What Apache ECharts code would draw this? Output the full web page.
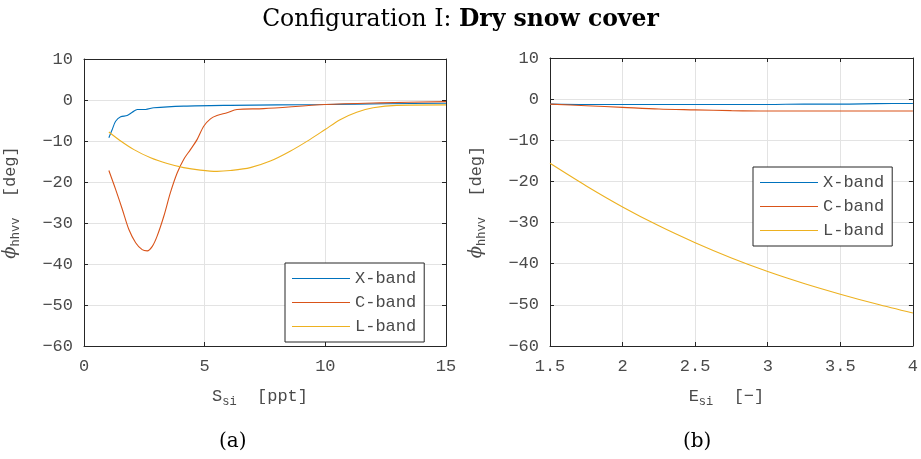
<!DOCTYPE html>
<html>
<head>
<meta charset="utf-8">
<script src="https://cdn.jsdelivr.net/npm/echarts@6/dist/echarts.min.js"></script>
<style>
  html, body { margin: 0; padding: 0; background: #fff; }
  #chart { width: 921px; height: 459px; }
</style>
</head>
<body>
<div id="chart"></div>
<script>
// ---- Data ----
const seriesNames = ['X-band', 'C-band', 'L-band'];

// Panel (a): phase difference vs. salinity S_si [ppt]
const xBandSalX = [1.03, 1.17, 1.31, 1.52, 1.79, 2.0, 2.21, 2.55, 2.89, 4.13, 6.06, 8.0, 10.0, 12.5, 15.0];
const xBandSalY = [-9.2, -7.2, -5.2, -4.1, -3.8, -3.0, -2.3, -2.3, -1.9, -1.5, -1.3, -1.2, -1.1, -0.9, -0.8];

const cBandSalX = [1.03, 1.31, 1.59, 1.86, 2.14, 2.41, 2.62, 2.83, 3.03, 3.31, 3.58, 3.86, 4.13, 4.41, 4.69, 4.96, 5.24, 5.51, 5.93, 6.34, 7.44, 10.0, 12.26, 15.0];
const cBandSalY = [-17.2, -21.8, -26.7, -31.6, -34.8, -36.5, -36.8, -35.7, -33.2, -28.3, -22.6, -17.8, -14.5, -12.1, -9.6, -6.4, -4.6, -3.8, -3.1, -2.3, -2.1, -1.1, -0.7, -0.4];

const lBandSalX = [1.03, 1.52, 2.07, 2.76, 3.45, 4.13, 4.82, 5.51, 6.06, 6.89, 7.72, 8.54, 9.37, 9.99, 10.61, 11.3, 11.98, 12.95, 15.0];
const lBandSalY = [-7.8, -10.0, -12.1, -14.1, -15.5, -16.5, -17.1, -17.4, -17.2, -16.5, -14.9, -12.5, -9.6, -7.2, -4.8, -3.0, -1.9, -1.3, -1.2];

// Panel (b): phase difference vs. permittivity E_si [-]
const permX = [1.5, 1.75, 2.0, 2.25, 2.5, 2.75, 3.0, 3.25, 3.5, 3.75, 4.0];
const xBandPermY = [-1.2, -1.3, -1.3, -1.3, -1.3, -1.3, -1.3, -1.2, -1.2, -1.1, -1.05];
const cBandPermY = [-1.2, -1.6, -2.0, -2.4, -2.6, -2.8, -2.9, -2.9, -2.9, -2.9, -2.9];
const lBandPermY = [-15.6, -21.1, -26.2, -30.8, -34.9, -38.6, -41.9, -44.8, -47.4, -49.8, -52.0];

// Axis ranges / ticks
const salTicks = [0, 5, 10, 15];
const permTicks = [1.5, 2, 2.5, 3, 3.5, 4];
const phaseTicks = [-60, -50, -40, -30, -20, -10, 0, 10];

// ---- Styling ----
const colors = ['#0072BD', '#D95319', '#EDB120'];
const MONO = '"Liberation Mono", "DejaVu Sans Mono", monospace';
const SERIF = '"DejaVu Serif", "Liberation Serif", serif';
const axisColor = '#262626';
const labelColor = '#4a4a4a';
const gridColor = '#e3e3e3';

function zip(xs, ys) { return xs.map((x, i) => [x, ys[i]]); }

const nameRich = {
  v: { fontFamily: MONO, fontSize: 17, color: labelColor, verticalAlign: 'middle', lineHeight: 24 },
  phi: { fontFamily: SERIF, fontStyle: 'italic', fontSize: 18, color: labelColor, verticalAlign: 'middle', lineHeight: 24 },
  sub: { fontFamily: MONO, fontSize: 12, color: labelColor, verticalAlign: 'bottom', lineHeight: 12 },
  u: { fontFamily: MONO, fontSize: 17, color: labelColor, verticalAlign: 'middle', lineHeight: 24 }
};

function mainX(grid, ticks, name) {
  return {
    type: 'value', gridIndex: grid, position: 'bottom',
    min: ticks[0], max: ticks[ticks.length - 1], interval: ticks[1] - ticks[0],
    axisLine: { show: true, onZero: false, lineStyle: { color: axisColor, width: 1 } },
    axisTick: { show: true, inside: true, length: 4, lineStyle: { color: axisColor } },
    axisLabel: { color: labelColor, fontFamily: MONO, fontSize: 17, margin: 12,
      formatter: v => String(Math.round(v * 10) / 10) },
    splitLine: { show: true, lineStyle: { color: gridColor, width: 1 } },
    name: name, nameLocation: 'middle', nameGap: 38,
    nameTextStyle: { rich: nameRich, padding: [0, 10, 0, 0] }
  };
}
function topX(grid, ticks) {
  return {
    type: 'value', gridIndex: grid, position: 'top',
    min: ticks[0], max: ticks[ticks.length - 1], interval: ticks[1] - ticks[0],
    axisLine: { show: true, onZero: false, lineStyle: { color: axisColor, width: 1 } },
    axisTick: { show: true, inside: true, length: 4, lineStyle: { color: axisColor } },
    axisLabel: { show: false }, splitLine: { show: false }
  };
}
function mainY(grid, nameGap) {
  return {
    type: 'value', gridIndex: grid, position: 'left',
    min: phaseTicks[0], max: phaseTicks[phaseTicks.length - 1], interval: 10,
    axisLine: { show: true, onZero: false, lineStyle: { color: axisColor, width: 1 } },
    axisTick: { show: true, inside: true, length: 4, lineStyle: { color: axisColor } },
    axisLabel: { color: labelColor, fontFamily: MONO, fontSize: 17, margin: 11,
      formatter: v => String(v).replace('-', '\u2212') },
    splitLine: { show: true, lineStyle: { color: gridColor, width: 1 } },
    name: '{phi|\u03D5}{sub|hhvv}{u|  [deg]}', nameLocation: 'middle', nameGap: nameGap, nameRotate: 90,
    nameTextStyle: { rich: nameRich }
  };
}
function rightY(grid) {
  return {
    type: 'value', gridIndex: grid, position: 'right',
    min: phaseTicks[0], max: phaseTicks[phaseTicks.length - 1], interval: 10,
    axisLine: { show: true, onZero: false, lineStyle: { color: axisColor, width: 1 } },
    axisTick: { show: true, inside: true, length: 4, lineStyle: { color: axisColor } },
    axisLabel: { show: false }, splitLine: { show: false }
  };
}

function lineSeries(name, idx, xAxisIndex, yAxisIndex, data) {
  return {
    name: name, type: 'line', xAxisIndex, yAxisIndex, data,
    symbol: 'none', smooth: 0.3, animation: false,
    lineStyle: { color: colors[idx], width: 1.1 },
    itemStyle: { color: colors[idx] }
  };
}

const legendBase = {
  orient: 'vertical', icon: 'path://M0,6 L60,6 L60,7 L0,7 Z',
  itemWidth: 58, itemHeight: 14, itemGap: 7,
  backgroundColor: '#fff', borderColor: axisColor, borderWidth: 1,
  textStyle: { fontFamily: MONO, fontSize: 17, color: labelColor },
  data: seriesNames, selectedMode: false
};

const chart = echarts.init(document.getElementById('chart'), null, { renderer: 'canvas' });
chart.setOption({
  animation: false,
  backgroundColor: '#fff',
  title: {
    text: '{a|Configuration I: }{b|Dry snow cover}',
    left: 'center', top: 3,
    textStyle: { rich: {
      a: { fontFamily: SERIF, fontSize: 23.5, fontWeight: 'normal', color: '#000' },
      b: { fontFamily: SERIF, fontSize: 23.5, fontWeight: 'bold', color: '#000' }
    } }
  },
  grid: [
    { left: 83, top: 59, width: 363, height: 287, show: false },
    { left: 550, top: 58, width: 367, height: 288, show: false }
  ],
  xAxis: [ mainX(0, salTicks, '{v|S}{sub|si}{u|  [ppt]}'), mainX(1, permTicks, '{v|E}{sub|si}{u|  [\u2212]}'),
           topX(0, salTicks), topX(1, permTicks) ],
  yAxis: [ mainY(0, 62), mainY(1, 62), rightY(0), rightY(1) ],
  legend: [
    Object.assign({}, legendBase, { left: 285, top: 263, padding: [7, 8, 7, 7] }),
    Object.assign({}, legendBase, { left: 753, top: 167, padding: [7, 8, 7, 7] })
  ],
  series: [
    lineSeries(seriesNames[0], 0, 0, 0, zip(xBandSalX, xBandSalY)),
    lineSeries(seriesNames[1], 1, 0, 0, zip(cBandSalX, cBandSalY)),
    lineSeries(seriesNames[2], 2, 0, 0, zip(lBandSalX, lBandSalY)),
    lineSeries(seriesNames[0], 0, 1, 1, zip(permX, xBandPermY)),
    lineSeries(seriesNames[1], 1, 1, 1, zip(permX, cBandPermY)),
    lineSeries(seriesNames[2], 2, 1, 1, zip(permX, lBandPermY))
  ],
  graphic: [
    { type: 'text', left: 219, top: 432, style: { text: '(a)', font: '20px ' + SERIF, fill: '#000' } },
    { type: 'text', left: 683, top: 432, style: { text: '(b)', font: '20px ' + SERIF, fill: '#000' } }
  ]
});
</script>
</body>
</html>
